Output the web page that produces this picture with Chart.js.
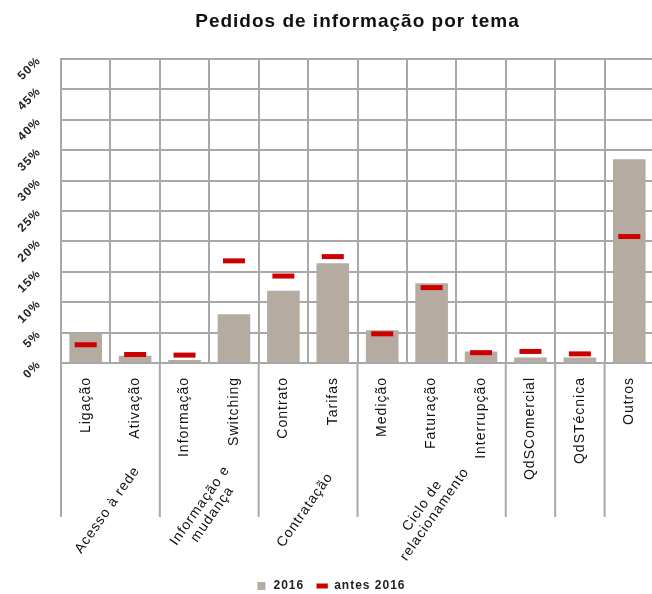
<!DOCTYPE html>
<html>
<head>
<meta charset="utf-8">
<script src="https://cdn.jsdelivr.net/npm/chart.js@4"></script>
<style>
  body { margin: 0; overflow: hidden; background: #fff; }
  #caixa { width: 670px; height: 594px; }
</style>
</head>
<body>
<div id="caixa"><canvas id="grafico"></canvas></div>
<script>
// dados (percentagens)
const categorias = ["Ligação", "Ativação", "Informação", "Switching", "Contrato", "Tarifas",
  "Medição", "Faturação", "Interrupção", "QdSComercial", "QdSTécnica", "Outros"]
const valores2016 = [4.9, 1.2, 0.5, 8.0, 11.9, 16.4, 5.4, 13.1, 1.9, 0.9, 0.9, 33.5]
const valoresAntes2016 = [3.0, 1.4, 1.3, 16.8, 14.3, 17.5, 4.8, 12.4, 1.7, 1.9, 1.5, 20.8]

// grupos de temas (índices da primeira e da última categoria)
const gruposNomes = [["Acesso à rede"], ["Informação e", "mudança"], ["Contratação"], ["Ciclo de", "relacionamento"], [], [], []]
const gruposInicio = [0, 2, 4, 6, 9, 10, 11]
const gruposFim = [1, 3, 5, 8, 9, 10, 11]

const eixoYMax = 50
const eixoYPasso = 5

const corGrelha = "#a8a8a8"
const fonte = "'Liberation Sans', Arial, sans-serif"
Chart.defaults.font.family = fonte

//espaçamento entre letras, como no original
const pluginEspacamento = {
  id: "espacamento",
  beforeUpdate(chart) { chart.ctx.letterSpacing = "1px" },
  beforeDraw(chart) { chart.ctx.letterSpacing = "1px" }
}

//separadores e nomes dos grupos por baixo do eixo x
const pluginGrupos = {
  id: "grupos",
  afterDraw(chart) {
    const ctx = chart.ctx
    const x = chart.scales.x
    const larguraCat = x.getPixelForValue(1) - x.getPixelForValue(0)
    const yTopo = chart.chartArea.bottom
    const yFundo = yTopo + 154
    ctx.save()
    ctx.strokeStyle = corGrelha
    ctx.lineWidth = 2
    let limites = gruposInicio.map(i => x.getPixelForValue(i) - larguraCat / 2)
    limites.push(x.getPixelForValue(categorias.length - 1) + larguraCat / 2)
    limites.forEach(px => {
      ctx.beginPath()
      ctx.moveTo(px, yTopo)
      ctx.lineTo(px, yFundo)
      ctx.stroke()
    })

    ctx.fillStyle = "#111"
    ctx.font = "14px " + fonte
    ctx.letterSpacing = "1px"
    ctx.textAlign = "center"
    ctx.textBaseline = "middle"
    gruposNomes.forEach((linhas, g) => {
      if (linhas.length == 0) return
      const cx = (x.getPixelForValue(gruposInicio[g]) + x.getPixelForValue(gruposFim[g])) / 2 - 3
      ctx.save()
      ctx.translate(cx, yTopo + 147)
      ctx.rotate(-55 * Math.PI / 180)
      linhas.forEach((linha, k) => {
        ctx.fillText(linha, 0, (k - (linhas.length - 1) / 2) * 15)
      })
      ctx.restore()
    })
    ctx.restore()
  }
}

let config = {
  data: {
    labels: categorias,
    datasets: [
      {
        type: "line",
        label: "antes 2016",
        data: valoresAntes2016,
        showLine: false,
        pointStyle: "line",
        pointRadius: 11,
        pointHoverRadius: 11,
        pointBorderWidth: 5,
        pointBorderColor: "#cc0000",
        borderColor: "#cc0000",
        backgroundColor: "#cc0000",
        order: 1
      },
      {
        type: "bar",
        label: "2016",
        data: valores2016,
        backgroundColor: "#b5aba1",
        pointStyle: "rect",
        barPercentage: 0.66,
        categoryPercentage: 1,
        order: 2
      }
    ]
  },
  options: {
    responsive: true,
    maintainAspectRatio: false,
    animation: false,
    layout: { padding: { right: 9, bottom: -8 } },
    plugins: {
      title: {
        display: true,
        text: "Pedidos de informação por tema",
        fullSize: false,
        color: "#111",
        font: { size: 19, weight: "bold" },
        padding: { top: 10, bottom: 26.2 }
      },
      legend: {
        position: "bottom",
        reverse: true,
        labels: {
          usePointStyle: true,
          boxHeight: 8,
          padding: 12,
          color: "#222",
          font: { size: 12, weight: "bold" }
        }
      },
      tooltip: { enabled: false }
    },
    scales: {
      x: {
        afterFit: (scale) => { scale.height = 205 },
        grid: { color: corGrelha, lineWidth: 2, offset: true, drawTicks: false },
        border: { color: corGrelha, width: 2 },
        ticks: {
          minRotation: 90,
          maxRotation: 90,
          padding: 14,
          color: "#111",
          font: { size: 14 }
        }
      },
      y: {
        min: 0,
        max: eixoYMax,
        afterFit: (scale) => { scale.width = 61 },
        grid: { color: corGrelha, lineWidth: 2, drawTicks: false },
        border: { color: corGrelha, width: 2 },
        ticks: {
          stepSize: eixoYPasso,
          minRotation: 45,
          maxRotation: 45,
          padding: 22,
          color: "#222",
          font: { size: 12, weight: "bold" },
          callback: (v) => v + "%"
        }
      }
    }
  },
  plugins: [pluginEspacamento, pluginGrupos]
}

new Chart(document.getElementById("grafico"), config)
</script>
</body>
</html>
